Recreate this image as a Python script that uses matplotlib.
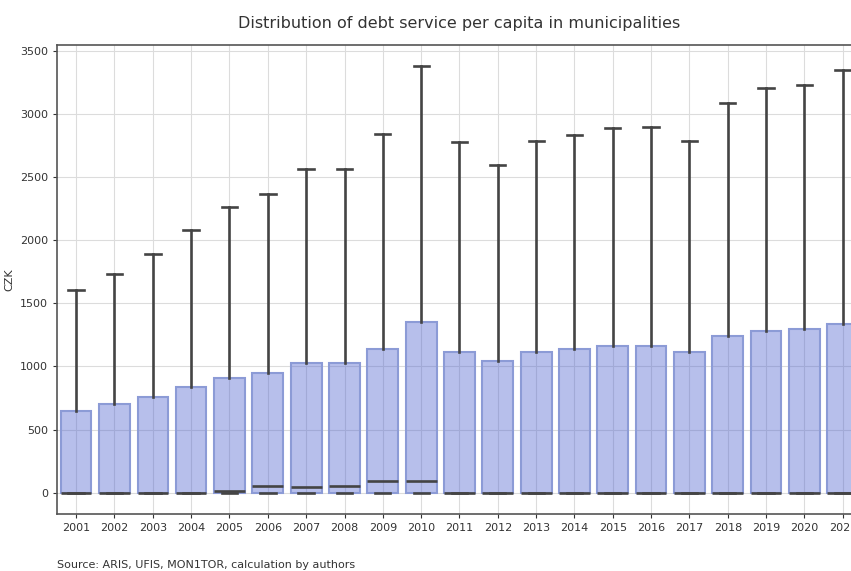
import matplotlib
matplotlib.use("Agg")
import matplotlib.pyplot as plt

# debt service per capita (CZK), box stats per year
years = [str(y) for y in range(2001, 2022)]
q1 = [0] * 21
median = [0, 0, 0, 0, 10, 50, 43, 53, 90, 95, 0, 0, 0, 0, 0, 0, 0, 0, 0, 0, 0]
q3 = [650, 700, 760, 835, 910, 950, 1030, 1030, 1140, 1355, 1115, 1045,
      1115, 1140, 1160, 1165, 1115, 1245, 1285, 1295, 1340]
whis_lo = [0] * 21
whis_hi = [1610, 1735, 1890, 2080, 2265, 2365, 2565, 2570, 2845, 3385, 2780,
           2600, 2790, 2835, 2890, 2900, 2790, 3090, 3210, 3230, 3350]

stats = []
for i in range(len(years)):
    stats.append({"label": years[i], "q1": q1[i], "med": median[i], "q3": q3[i],
                  "whislo": whis_lo[i], "whishi": whis_hi[i], "fliers": []})

fig = plt.figure(figsize=(8.51, 5.71), dpi=100)
ax = fig.add_axes([57/851, 1 - 514/571, 805/851, (514 - 45)/571])

dark = "#444444"
ax.bxp(stats, positions=range(len(years)), widths=0.8, capwidths=0.4,
       patch_artist=True, showfliers=False,
       boxprops=dict(facecolor=(75/255, 95/255, 207/255, 0.4),
                     edgecolor="#8c9bd6", linewidth=1.5),
       medianprops=dict(color=dark, linewidth=1.9),
       whiskerprops=dict(color=dark, linewidth=1.9),
       capprops=dict(color=dark, linewidth=1.9))

ax.set_xlim(-0.5, len(years) - 0.5)
ax.set_ylim(-170, 3550)
ax.set_yticks(range(0, 3501, 500))
ax.set_xticks(range(len(years)))
ax.set_xticklabels(years)
ax.grid(True, color="#dcdcdc", linewidth=0.8)
ax.set_axisbelow(True)
ax.tick_params(labelsize=8, colors="#333333", length=3)
for s in ax.spines.values():
    s.set_color("#555555")
    s.set_linewidth(1.2)

ax.set_ylabel("CZK", fontsize=8, color="#333333")
ax.set_title("Distribution of debt service per capita in municipalities",
             fontsize=11.5, color="#333333", pad=12)
fig.text(57/851, 1 - 565/571, "Source: ARIS, UFIS, MON1TOR, calculation by authors",
         fontsize=8, color="#333333", va="center")

fig.savefig("out.png", dpi=100)
